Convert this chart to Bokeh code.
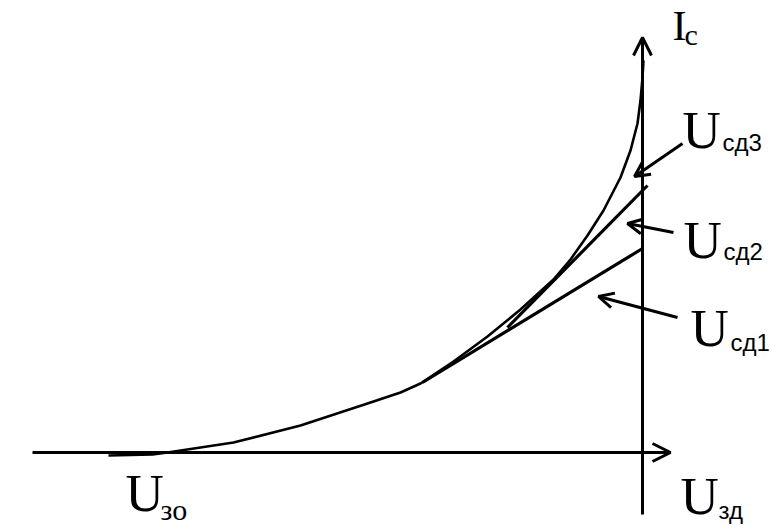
from bokeh.plotting import figure
from bokeh.models import Range1d, Arrow, OpenHead, ColumnDataSource
from bokeh.core.properties import value
from bokeh.embed import file_html
from bokeh.resources import INLINE

# Transfer characteristic I_c(U_zd) in arbitrary units (origin at axes crossing)
u_zd = [-534, -490, -475, -409, -342, -275, -242, -222, -189, -155, -122, -89, -72, -55, -39, -22, -12, -5, -2, 0, 1]
i_c = [-3, -2, 0, 10, 27, 49, 60, 69, 91, 116, 143, 173, 193, 217, 242, 275, 302, 329, 352, 375, 392]

# Tangent lines (U_sd1, U_sd2): start/end points
tan1_u = [-220, 0]
tan1_i = [70, 204]
tan2_u = [-135, 5]
tan2_i = [125, 267]

# Pointer arrows (from label to curve/line)
arr_u0 = [40, 31, 35]
arr_i0 = [309, 220, 135]
arr_u1 = [-8, -15, -44]
arr_i1 = [276, 229, 156]

p = figure(width=772, height=530, output_backend="svg", toolbar_location=None,
           x_range=Range1d(-642, 130), y_range=Range1d(-78, 452),
           min_border=0, min_border_left=0, min_border_right=0,
           min_border_top=0, min_border_bottom=0)
p.axis.visible = False
p.grid.visible = False
p.outline_line_color = None
p.background_fill_color = "white"

# Axes with arrows
p.add_layout(Arrow(end=OpenHead(size=18, line_width=3, line_color="black"),
                   x_start=0, y_start=-62, x_end=0, y_end=415,
                   line_width=3, line_color="black"))
p.add_layout(Arrow(end=OpenHead(size=18, line_width=3, line_color="black"),
                   x_start=-610, y_start=0, x_end=28, y_end=0,
                   line_width=3, line_color="black"))

# Curve
p.line(u_zd, i_c, line_width=2.6, line_color="black", line_join="round")

# Tangent lines
p.line(tan1_u, tan1_i, line_width=3.2, line_color="black")
p.line(tan2_u, tan2_i, line_width=3.2, line_color="black")

# Pointer arrows
src = ColumnDataSource(dict(x0=arr_u0, y0=arr_i0, x1=arr_u1, y1=arr_i1))
p.add_layout(Arrow(end=OpenHead(size=15, line_width=3, line_color="black"),
                   x_start="x0", y_start="y0", x_end="x1", y_end="y1",
                   source=src, line_width=3, line_color="black"))

serif = value("Liberation Serif")
sans = value("Liberation Sans")

def lab(x, y, t, size, font):
    p.text(x=[x], y=[y], text=[t], text_font=font, text_font_size=f"{size}px",
           text_align="left", text_baseline="alphabetic", text_color="black")

lab(30, 427, "I", 42, serif)
lab(42, 418, "c", 30, serif)

lab(40, 323, "U", 53, serif)
lab(80, 310, "сд3", 24, sans)

lab(41, 213, "U", 53, serif)
lab(81, 201, "сд2", 24, sans)

lab(48, 125, "U", 53, serif)
lab(88, 110, "сд1", 24, sans)

lab(-517, -40, "U", 53, serif)
lab(-482, -57, "зо", 30, serif)

lab(38, -43, "U", 53, serif)
lab(76, -58, "зд", 24, sans)

open("out.html", "w").write(file_html(p, INLINE))
